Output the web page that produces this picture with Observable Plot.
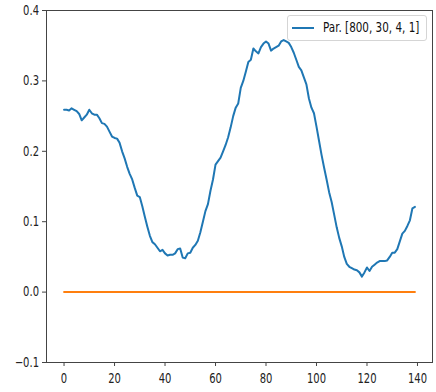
<!DOCTYPE html>
<html><head><meta charset="utf-8">
<script src="https://cdn.jsdelivr.net/npm/d3@7"></script>
<script src="https://cdn.jsdelivr.net/npm/@observablehq/plot@0.6"></script>
<style>
body{margin:0;background:#fff;}
#wrap{position:relative;width:436px;height:392px;background:#fff;}
#legend{position:absolute;left:287px;top:15px;width:140px;height:26px;border:1px solid #d5d5d5;border-radius:3px;background:rgba(255,255,255,0.85);box-sizing:border-box;font-family:"DejaVu Sans",sans-serif;font-size:10.4px;color:#111;}
#legend .sw{position:absolute;left:4px;top:11px;width:22px;height:2px;background:#1f77b4;}
#legend .lb{position:absolute;left:35px;top:5px;line-height:13px;white-space:nowrap;transform:scaleY(1.33);transform-origin:left center;}
</style>
</head><body>
<div id="wrap"><div id="legend"><span class="sw"></span><span class="lb" id="lbl"></span></div></div>
<script>
const seriesName = "Par. [800, 30, 4, 1]";
const steps = Array.from({length: 140}, (_, i) => i);
const parValues = [
 0.259,0.259,0.258,0.261,0.259,0.257,0.253,0.244,0.248,0.252,
 0.259,0.254,0.252,0.252,0.247,0.240,0.239,0.235,0.228,0.221,
 0.219,0.218,0.212,0.200,0.190,0.178,0.168,0.160,0.148,0.137,
 0.135,0.122,0.107,0.093,0.080,0.071,0.068,0.063,0.058,0.060,
 0.055,0.052,0.053,0.053,0.055,0.061,0.062,0.049,0.048,0.055,
 0.056,0.063,0.067,0.073,0.085,0.100,0.115,0.125,0.144,0.160,
 0.181,0.186,0.191,0.200,0.209,0.220,0.234,0.250,0.262,0.268,
 0.290,0.300,0.313,0.327,0.330,0.346,0.342,0.339,0.348,0.353,
 0.356,0.353,0.343,0.346,0.348,0.350,0.356,0.358,0.356,0.354,
 0.348,0.340,0.330,0.320,0.315,0.305,0.295,0.275,0.262,0.254,
 0.235,0.215,0.195,0.177,0.160,0.142,0.128,0.110,0.092,0.077,
 0.065,0.050,0.040,0.036,0.034,0.032,0.031,0.028,0.022,0.028,
 0.035,0.030,0.036,0.039,0.042,0.044,0.044,0.044,0.045,0.050,
 0.056,0.056,0.061,0.072,0.083,0.087,0.094,0.102,0.119,0.121
];
const zeroValues = [
 0,0,0,0,0,0,0,0,0,0, 0,0,0,0,0,0,0,0,0,0, 0,0,0,0,0,0,0,0,0,0, 0,0,0,0,0,0,0,0,0,0,
 0,0,0,0,0,0,0,0,0,0, 0,0,0,0,0,0,0,0,0,0, 0,0,0,0,0,0,0,0,0,0, 0,0,0,0,0,0,0,0,0,0,
 0,0,0,0,0,0,0,0,0,0, 0,0,0,0,0,0,0,0,0,0, 0,0,0,0,0,0,0,0,0,0, 0,0,0,0,0,0,0,0,0,0,
 0,0,0,0,0,0,0,0,0,0, 0,0,0,0,0,0,0,0,0,0
];
const xTicks = [0, 20, 40, 60, 80, 100, 120, 140];
const yTicks = [-0.1, 0.0, 0.1, 0.2, 0.3, 0.4];

const par = steps.map((s, i) => ({x: s, y: parValues[i]}));
const zero = steps.map((s, i) => ({x: s, y: zeroValues[i]}));

const chart = Plot.plot({
  width: 436,
  height: 392,
  marginLeft: 46,
  marginRight: 4,
  marginTop: 10,
  marginBottom: 30,
  style: {fontFamily: "DejaVu Sans, sans-serif", fontSize: "10px", background: "white", color: "#111"},
  x: {domain: [-6.95, 145.95]},
  y: {domain: [-0.1, 0.4]},
  marks: [
    Plot.line(par, {x: "x", y: "y", stroke: "#1f77b4", strokeWidth: 2}),
    Plot.line(zero, {x: "x", y: "y", stroke: "#ff7f0e", strokeWidth: 2}),
    Plot.frame({stroke: "#444", strokeWidth: 1}),
    Plot.axisX({ticks: xTicks, tickSize: 4, tickPadding: 8, label: null, stroke: "#444", fill: "#222"}),
    Plot.axisY({ticks: yTicks, tickSize: 4, tickPadding: 3.5, label: null, tickFormat: d3.format(".1f"), stroke: "#444", fill: "#222"})
  ]
});
document.getElementById("wrap").prepend(chart);
document.getElementById("lbl").textContent = seriesName;

// vertically stretch tick labels (about their own centre) to mimic the reference
const s = 1.33;
chart.querySelectorAll("text").forEach(t => {
  let b;
  try { b = t.getBBox(); } catch (e) { return; }
  const cx = b.x + b.width / 2, cy = b.y + b.height / 2;
  if (!isFinite(cx) || !isFinite(cy)) return;
  const T = t.getAttribute("transform") || "";
  t.setAttribute("transform", `${T} translate(${cx},${cy}) scale(1,${s}) translate(${-cx},${-cy})`.trim());
});
</script>
</body></html>
